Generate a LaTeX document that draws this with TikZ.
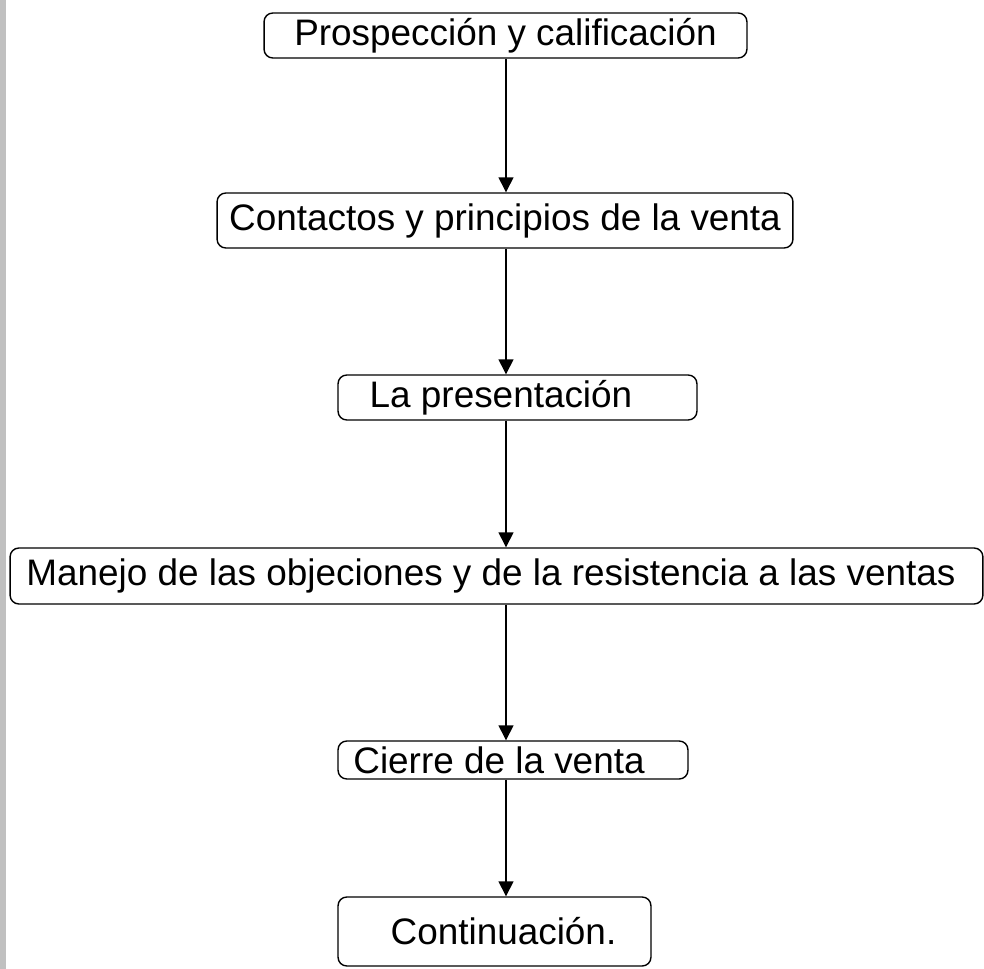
\documentclass[tikz,border=0pt]{standalone}
\usepackage{fontspec}
\setmainfont{Liberation Sans}
\usetikzlibrary{arrows.meta, positioning, calc}
\definecolor{sidebar}{RGB}{192,192,192}

\begin{document}
\begin{tikzpicture}[
  x=0.02cm, y=-0.02cm,
  stage/.style={rectangle, draw, rounded corners=5pt, line width=0.8pt, inner sep=0pt, font=\fontsize{21}{25}\selectfont},
  arrow/.style={-{Triangle[length=8.5pt, width=8.5pt]}, line width=0.8pt}
]
  % Frame and left bar
  \useasboundingbox (0,0) rectangle (984,969);
  \fill[sidebar] (0,0) rectangle (6,969);

  % Stages of the sale
  \node[stage, minimum width=9.66cm, minimum height=0.90cm] (prosp) at (505.5,35.5) {Prospección y calificación};
  \node[stage, minimum width=11.52cm, minimum height=1.10cm] (contact) at (505,220.5) {Contactos y principios de la venta};
  \node[stage, minimum width=7.18cm, minimum height=0.90cm] (present) at (517.5,397.5) {};
  \node[xshift=-0.33cm, font=\fontsize{21}{25}\selectfont] (presenttxt) at (present.center) {La presentación};
  \node[stage, minimum width=19.46cm, minimum height=1.12cm] (objection) at (496.5,576) {};
  \node[xshift=-0.11cm, font=\fontsize{21}{25}\selectfont] (objectiontxt) at (objection.center) {Manejo de las objeciones y de la resistencia a las ventas};
  \node[stage, minimum width=7.0cm, minimum height=0.76cm] (close) at (513,760) {};
  \node[xshift=-0.28cm, font=\fontsize{21}{25}\selectfont] (closetxt) at (close.center) {Cierre de la venta};
  \node[stage, minimum width=6.26cm, minimum height=1.38cm] (follow) at (494.5,931.5) {};
  \node[xshift=0.18cm, font=\fontsize{21}{25}\selectfont] (followtxt) at (follow.center) {Continuación.};

  % Connections
  \coordinate (axis) at (506,0);
  \draw[arrow] (axis |- prosp.south) -- (axis |- contact.north);
  \draw[arrow] (axis |- contact.south) -- (axis |- present.north);
  \draw[arrow] (axis |- present.south) -- (axis |- objection.north);
  \draw[arrow] (axis |- objection.south) -- (axis |- close.north);
  \draw[arrow] (axis |- close.south) -- (axis |- follow.north);
\end{tikzpicture}
\end{document}
